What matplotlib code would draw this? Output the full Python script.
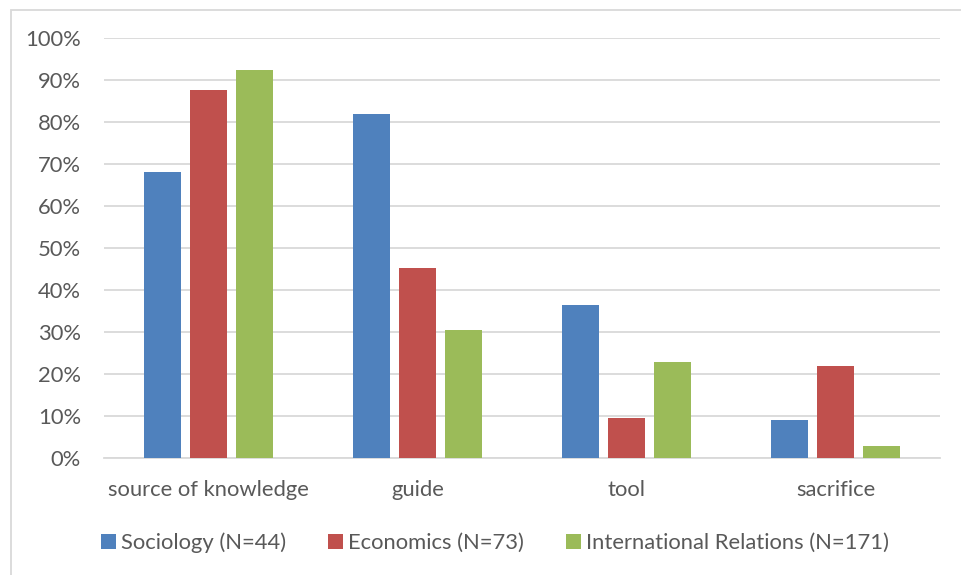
import numpy as np
import matplotlib.pyplot as plt
from matplotlib.patches import Rectangle

categories = ['source of knowledge', 'guide', 'tool', 'sacrifice']
series_names = ['Sociology (N=44)', 'Economics (N=73)', 'International Relations (N=171)']
sociology = [68.2, 81.8, 36.4, 9.1]
economics = [87.7, 45.2, 9.6, 21.9]
intl_rel = [92.4, 30.4, 22.8, 2.9]
colors = ['#4F81BD', '#C0504D', '#9BBB59']

plt.rcParams['font.family'] = ['Lato', 'DejaVu Sans']
text_color = '#595959'
grid_color = '#D9D9D9'
fs = 15.8

fig = plt.figure(figsize=(9.62, 5.75), dpi=100)
ax = fig.add_axes([104/962, 1-458/575, (940-104)/962, (458-38)/575])

x = np.arange(len(categories))
width = 0.177
offset = 0.22
for i, (vals, name) in enumerate(zip([sociology, economics, intl_rel], series_names)):
    ax.bar(x + (i - 1)*offset, vals, width, color=colors[i], label=name, zorder=3)

ax.set_xlim(-0.5, len(categories) - 0.5)
ax.set_ylim(0, 100)
ax.set_yticks(np.arange(0, 101, 10))
ax.set_yticklabels(['{}%'.format(v) for v in range(0, 101, 10)])
ax.set_xticks(x)
ax.set_xticklabels(categories)
ax.tick_params(axis='both', length=0, labelsize=fs, colors=text_color)
ax.tick_params(axis='y', pad=16.5)
ax.tick_params(axis='x', pad=16)
ax.grid(axis='y', color=grid_color, linewidth=1.3, zorder=0)
for s in ['top', 'right', 'left']:
    ax.spines[s].set_visible(False)
ax.spines['bottom'].set_color(grid_color)
ax.spines['bottom'].set_linewidth(1.3)

leg = fig.legend(loc='center', bbox_to_anchor=(495/962, 1-543/575), ncol=3,
                 frameon=False, fontsize=fs, handlelength=0.68, handleheight=0.68,
                 handletextpad=0.23, columnspacing=1.9)
for t in leg.get_texts():
    t.set_color(text_color)

fig.patches.append(Rectangle((11/962, -0.1), 1.2, 1.1 - 10/575, transform=fig.transFigure,
                             fill=False, edgecolor=grid_color, linewidth=1.3))

fig.savefig('out.png', dpi=100)
